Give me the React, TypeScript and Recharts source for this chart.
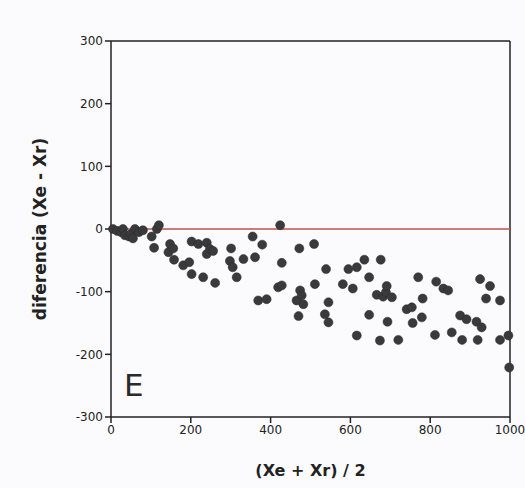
import React from 'react';
import { ScatterChart, Scatter, XAxis, YAxis, ReferenceLine } from 'recharts';

// promedio (Xe + Xr) / 2
const media = [
  5, 15, 25, 30, 35, 45, 50, 55, 60, 70, 80, 102, 108, 115, 120,
  144, 148, 156, 158, 181, 196, 202, 202, 219, 231, 240, 240, 248, 256, 261,
  298, 301, 305, 315, 332, 355, 361, 369, 379, 390, 419, 424, 428, 428,
  465, 470, 472, 474, 478, 482, 509, 511, 536, 539, 545, 545,
  581, 595, 606, 616, 616, 635, 647, 647, 666, 674, 676, 682, 689, 691, 693, 704,
  720, 741, 754, 756, 770, 779, 781, 812, 815, 833, 845, 854,
  875, 880, 891, 916, 919, 925, 929, 940, 950, 975, 975, 996, 998,
];

// diferencia (Xe - Xr)
const diferencia = [
  0, -3, -5, 0, -10, -12, -8, -15, 0, -5, -2, -12, -30, 0, 6,
  -37, -24, -31, -49, -58, -53, -72, -20, -24, -77, -22, -40, -32, -35, -86,
  -51, -31, -61, -77, -48, -12, -45, -114, -25, -112, -93, 6, -54, -90,
  -114, -139, -31, -98, -106, -120, -24, -88, -136, -64, -117, -149,
  -88, -64, -95, -61, -170, -49, -77, -137, -105, -178, -49, -108, -101, -91, -148, -109,
  -177, -128, -125, -150, -77, -141, -111, -169, -84, -95, -98, -165,
  -138, -177, -144, -148, -177, -80, -157, -111, -91, -114, -177, -170, -221,
];

const xTicks = [0, 200, 400, 600, 800, 1000];
const yTicks = [-300, -200, -100, 0, 100, 200, 300];

const puntos = media.map((x, i) => ({ x, y: diferencia[i] }));

const tickStyle = { fontSize: 12, fill: '#222', fontFamily: 'DejaVu Sans' };
const ejeColor = '#222';

export default function App() {
  return (
    <div style={{ position: 'absolute', left: 0, top: 0, width: 525, height: 488, background: '#fbfbfd' }}>
      <ScatterChart width={525} height={488} margin={{ top: 41, right: 15, left: 0, bottom: 0 }}>
        <XAxis
          type="number"
          dataKey="x"
          domain={[0, 1000]}
          ticks={xTicks}
          height={71}
          stroke={ejeColor}
          strokeWidth={1.5}
          tick={tickStyle}
          tickSize={6}
          label={{
            value: '(Xe + Xr) / 2',
            position: 'insideBottom',
            offset: 12,
            style: { fontSize: 16, fontWeight: 'bold', fill: '#222', fontFamily: 'DejaVu Sans' },
          }}
        />
        <YAxis
          type="number"
          dataKey="y"
          domain={[-300, 300]}
          ticks={yTicks}
          width={111}
          stroke={ejeColor}
          strokeWidth={1.5}
          tick={tickStyle}
          tickSize={6}
          label={{
            value: 'diferencia (Xe - Xr)',
            angle: -90,
            position: 'insideLeft',
            offset: 40,
            style: { textAnchor: 'middle', fontSize: 17, fontWeight: 'bold', fill: '#222', fontFamily: 'DejaVu Sans' },
          }}
        />
        <ReferenceLine y={300} stroke={ejeColor} strokeWidth={1.5} />
        <ReferenceLine x={1000} stroke={ejeColor} strokeWidth={1.5} />
        <ReferenceLine y={0} stroke="#c0504d" strokeWidth={1.5} />
        <Scatter data={puntos} fill="#3a3a3c" stroke="#2a2a2a" strokeWidth={0.5} shape="circle" isAnimationActive={false} />
      </ScatterChart>
      <div
        style={{
          position: 'absolute',
          left: 124,
          top: 370,
          fontSize: 31,
          fontFamily: 'DejaVu Sans',
          color: '#2a2a2a',
          lineHeight: 1,
        }}
      >
        E
      </div>
    </div>
  );
}
